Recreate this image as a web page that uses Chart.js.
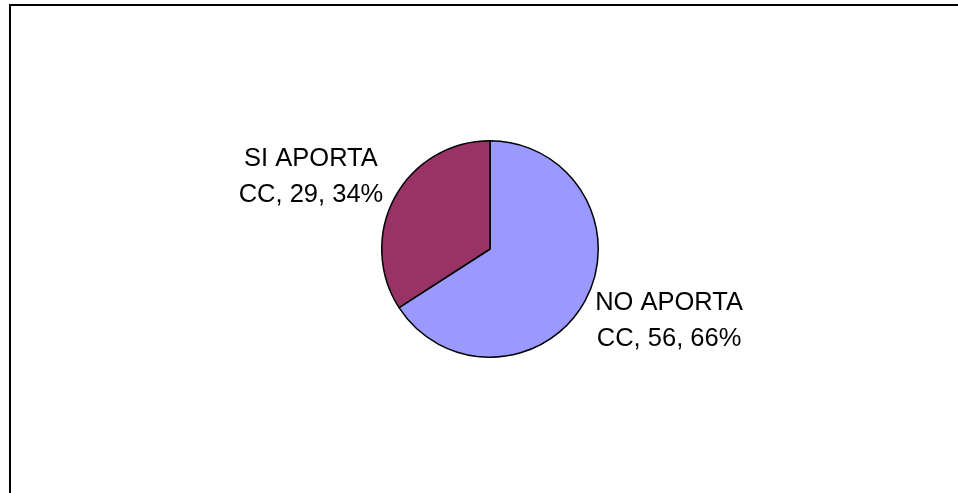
<!DOCTYPE html>
<html>
<head>
<meta charset="utf-8">
<script src="https://cdn.jsdelivr.net/npm/chart.js@4/dist/chart.umd.min.js"></script>
<style>
  html, body { margin: 0; padding: 0; background: #fff; }
  #wrap { position: relative; width: 958px; height: 493px; overflow: hidden; }
  #frame { position: absolute; left: 9px; top: 4px; right: -10px; bottom: -10px;
           border-top: 2px solid #000; border-left: 2px solid #000; }
  canvas { position: absolute; left: 0; top: 0; }
</style>
</head>
<body>
<div id="wrap">
  <div id="frame"></div>
  <canvas id="chart" width="958" height="493"></canvas>
</div>
<script>
// Category names, values and slice colours
const categories = ['NO APORTA CC', 'SI APORTA CC'];
const values = [56, 29];
const colors = ['#9999FF', '#993366'];

// Data-label placement: shift from the slice's rim midpoint to the
// label block (horizontal centre, first-line baseline)
const labelShift = [[84, 9], [-84, -31]];

const total = values.reduce((a, b) => a + b, 0);

const outsideLabels = {
  id: 'outsideLabels',
  afterDatasetsDraw(chart) {
    const ctx = chart.ctx;
    const meta = chart.getDatasetMeta(0);
    ctx.save();
    ctx.font = '25.5px "Liberation Sans", Arial, sans-serif';
    ctx.fillStyle = '#000';
    ctx.textAlign = 'center';
    ctx.textBaseline = 'alphabetic';
    const lineH = 36;
    meta.data.forEach((arc, i) => {
      const p = arc.getProps(['x', 'y', 'startAngle', 'endAngle', 'outerRadius'], true);
      const mid = (p.startAngle + p.endAngle) / 2;
      const rx = p.x + Math.cos(mid) * p.outerRadius;
      const ry = p.y + Math.sin(mid) * p.outerRadius;
      const cx = rx + labelShift[i][0];
      const by = ry + labelShift[i][1];
      const words = categories[i].split(' ');
      const last = words.pop();
      const pct = Math.round(values[i] / total * 100);
      const lines = [words.join(' '), `${last}, ${values[i]}, ${pct}%`];
      lines.forEach((t, k) => ctx.fillText(t, cx, by + k * lineH));
    });
    ctx.restore();
  }
};

new Chart(document.getElementById('chart'), {
  type: 'pie',
  data: {
    labels: categories,
    datasets: [{
      data: values,
      backgroundColor: colors,
      borderColor: '#000',
      borderWidth: 1.5
    }]
  },
  options: {
    responsive: false,
    animation: false,
    layout: { padding: { top: 140, bottom: 135, left: 22, right: 0 } },
    plugins: {
      legend: { display: false },
      tooltip: { enabled: false }
    }
  },
  plugins: [outsideLabels]
});
</script>
</body>
</html>
